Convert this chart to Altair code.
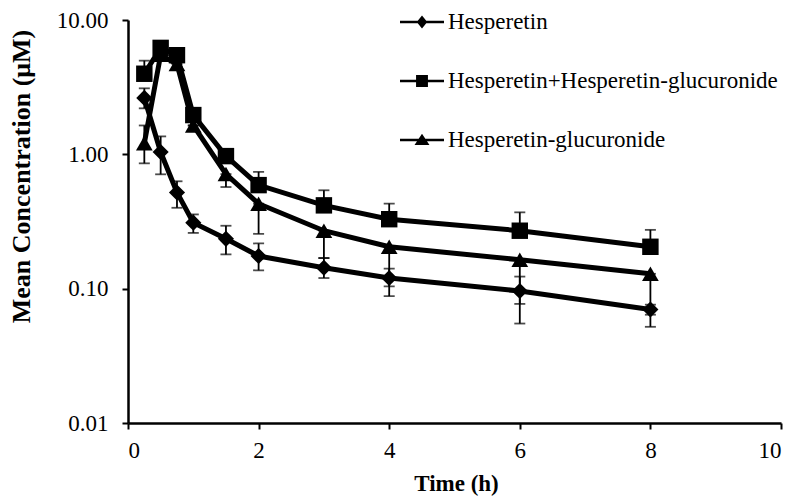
import altair as alt
import pandas as pd

# ---- data ----
time_h = [0.25, 0.5, 0.75, 1, 1.5, 2, 3, 4, 6, 8]

series_names = ["Hesperetin", "Hesperetin+Hesperetin-glucuronide", "Hesperetin-glucuronide"]

hes_mean = [2.63, 1.04, 0.52, 0.31, 0.235, 0.175, 0.143, 0.120, 0.096, 0.070]
hes_lo = [2.20, 0.71, 0.40, 0.26, 0.180, 0.137, 0.120, 0.104, 0.077, 0.064]
hes_hi = [3.10, 1.36, 0.63, 0.357, 0.294, 0.217, 0.169, 0.141, 0.123, 0.076]

tot_mean = [3.98, 6.2, 5.47, 1.96, 0.97, 0.59, 0.417, 0.329, 0.270, 0.205]
tot_lo = [3.98, 6.2, 5.47, 1.96, 0.97, 0.59, 0.417, 0.329, 0.270, 0.205]
tot_hi = [4.98, 6.2, 5.47, 1.96, 0.97, 0.74, 0.54, 0.43, 0.37, 0.274]

glu_mean = [1.21, 5.5, 4.7, 1.64, 0.713, 0.429, 0.270, 0.205, 0.164, 0.129]
glu_lo = [0.857, 5.5, 4.3, 1.64, 0.571, 0.256, 0.169, 0.088, 0.055, 0.052]
glu_hi = [1.64, 5.5, 4.7, 1.64, 0.713, 0.429, 0.270, 0.205, 0.164, 0.129]

y_ticks = [0.01, 0.1, 1, 10]
x_ticks = [0, 2, 4, 6, 8, 10]

rows = []
for name, m, lo, hi in [
    (series_names[0], hes_mean, hes_lo, hes_hi),
    (series_names[1], tot_mean, tot_lo, tot_hi),
    (series_names[2], glu_mean, glu_lo, glu_hi),
]:
    for t, a, b, c in zip(time_h, m, lo, hi):
        rows.append({"series": name, "time": t, "mean": a, "lo": b, "hi": c})
df = pd.DataFrame(rows)

FONT = "Liberation Serif"
Y_TITLE = "Mean Concentration (\u03bcM)"
X_TITLE = "Time (h)"

x_axis = alt.Axis(values=x_ticks, format="d", title=X_TITLE,
                  titleX=328, titleY=67, titleAnchor="middle",
                  titleAlign="center", titleBaseline="alphabetic",
                  labelPadding=10)
y_axis = alt.Axis(values=y_ticks, format=".2f", title=Y_TITLE,
                  titleX=-107, titleY=156, titleAngle=270,
                  titleAlign="center", titleBaseline="middle",
                  labelPadding=14)

x_scale = alt.Scale(domain=[0, 10], nice=False)
y_scale = alt.Scale(type="log", domain=[0.01, 10], nice=False)

x_enc = alt.X("time:Q", scale=x_scale, axis=x_axis, title=X_TITLE)
y_mean = alt.Y("mean:Q", scale=y_scale, axis=y_axis, title=Y_TITLE)

base = alt.Chart(df)

errbars = base.mark_errorbar(ticks=True, size=11, thickness=1.8, color="black").encode(
    x=x_enc,
    y=alt.Y("lo:Q", scale=y_scale, axis=y_axis, title=Y_TITLE),
    y2="hi:Q",
    detail="series:N",
)

lines = base.mark_line(color="black", strokeWidth=5).encode(
    x=x_enc, y=y_mean, detail="series:N"
)

points = base.mark_point(filled=True, color="black", opacity=1).encode(
    x=x_enc,
    y=y_mean,
    shape=alt.Shape("series:N",
                    scale=alt.Scale(domain=series_names,
                                    range=["diamond", "square", "triangle-up"]),
                    legend=None),
    size=alt.Size("series:N",
                  scale=alt.Scale(domain=series_names, range=[260, 280, 310]),
                  legend=None),
)

line_path = "M-1,-0.06 L1,-0.06 L1,0.06 L-1,0.06 Z"
legend_paths = [
    line_path + " M0,-0.3 L0.24,0 L0,0.3 L-0.24,0 Z",
    line_path + " M-0.27,-0.27 L0.27,-0.27 L0.27,0.27 L-0.27,0.27 Z",
    line_path + " M0,-0.28 L0.34,0.23 L-0.34,0.23 Z",
]

legend_layer = base.transform_filter("datum.time < 0").mark_point(
    filled=True, color="black"
).encode(
    x=x_enc,
    y=y_mean,
    shape=alt.Shape("series:N",
                    scale=alt.Scale(domain=series_names, range=legend_paths),
                    legend=alt.Legend(title=None, orient="none", legendX=272, legendY=-20,
                                      symbolSize=1936, symbolOpacity=1,
                                      symbolFillColor="black", symbolStrokeColor="black",
                                      symbolStrokeWidth=0,
                                      labelFont=FONT, labelFontSize=23, labelColor="black",
                                      labelOffset=4, rowPadding=25, padding=0,
                                      labelLimit=400)),
)

chart = alt.layer(errbars, lines, points, legend_layer).resolve_scale(
    shape="independent"
).properties(
    width=653, height=403,
    autosize=alt.AutoSizeParams(type="none"),
    padding={"left": 120, "top": 12, "right": 3, "bottom": 73},
).configure_view(stroke=None).configure_axis(
    grid=False,
    domainColor="black", domainWidth=2.5,
    tickColor="black", tickWidth=2, tickSize=6,
    labelFont=FONT, labelFontSize=23, labelColor="black",
    titleFont=FONT, titleFontSize=23, titleFontWeight="bold", titleColor="black",
).configure_axisY(titleFontSize=26)

chart.save("out.html", embed_options={"renderer": "svg", "actions": False})
